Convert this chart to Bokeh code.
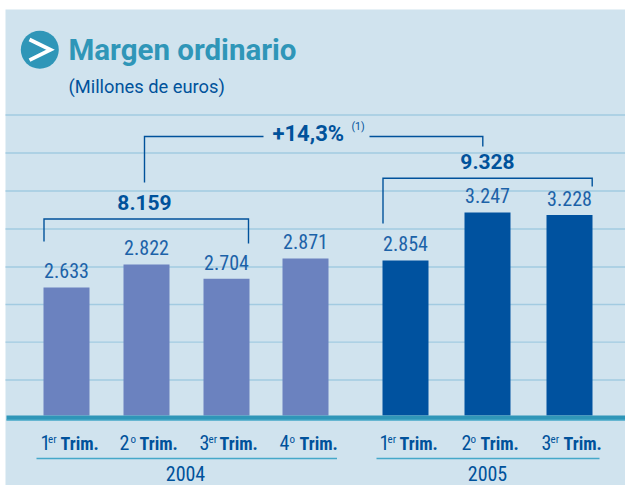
from bokeh.plotting import figure
from bokeh.embed import file_html
from bokeh.resources import INLINE
from bokeh.models import Range1d
from bokeh.core.properties import value

# ---- data ----
periods_2004 = ["1er Trim.", "2o Trim.", "3er Trim.", "4o Trim."]
values_2004 = [2633, 2822, 2704, 2871]
labels_2004 = ["2.633", "2.822", "2.704", "2.871"]
periods_2005 = ["1er Trim.", "2o Trim.", "3er Trim."]
values_2005 = [2854, 3247, 3228]
labels_2005 = ["2.854", "3.247", "3.228"]
years = ["2004", "2005"]
totals = ["8.159", "9.328"]
growth = "+14,3%"
note = "(1)"
title = "Margen ordinario"
subtitle = "(Millones de euros)"

# ---- layout (reference pixels) ----
BAR_W = 46
centers_2004 = [66, 146, 226, 305]
centers_2005 = [405, 487, 569]
BASE_VALUE, PX_PER_UNIT, BASE_PX = 1585, 0.1221, 415
L, T, R, B = 0, 0, 625, 485
RAISE = 0.38  # text sits this many em below the requested baseline in the svg output

BG, TEAL, BLUE, SOFT = "#d0e3ee", "#2f96b8", "#00529b", "#1c62a8"
LILAC, NAVY, GRID, RULE = "#6b82bf", "#00529f", "#a2cbe1", "#45a8c9"
COND = value("Roboto Condensed")
ROB = value("Roboto")

p = figure(width=R - L, height=B - T, output_backend="svg", toolbar_location=None,
           x_range=Range1d(L, R),
           y_range=Range1d(BASE_VALUE - (B - BASE_PX) / PX_PER_UNIT,
                           BASE_VALUE + (BASE_PX - T) / PX_PER_UNIT),
           min_border=0, outline_line_color=None,
           background_fill_color="white", border_fill_color="white")
p.axis.visible = False
p.grid.visible = False
p.extra_y_ranges["px"] = Range1d(B, T)
PX = dict(y_range_name="px")

# panel
p.quad(left=[5], right=[R], top=[9], bottom=[B], color=BG, line_color=None, **PX)

# horizontal rules
for y in [114.5, 152.5, 190.5, 228.5, 266.5, 304, 341.7, 379.5]:
    p.line([5, R], [y, y], line_color=GRID, line_width=1.3, **PX)

# bars
p.vbar(x=centers_2004, top=values_2004, bottom=BASE_VALUE, width=BAR_W, color=LILAC, line_color=None)
p.vbar(x=centers_2005, top=values_2005, bottom=BASE_VALUE, width=BAR_W, color=NAVY, line_color=None)

# baseline band
p.quad(left=[6], right=[R], top=[415], bottom=[420], color=TEAL, line_color=None, **PX)
p.line([6, R], [419.5, 419.5], line_color="#4fb0cf", line_width=1, **PX)

# value labels
VAL_SIZE = 20
p.text(x=centers_2004, y=values_2004, text=labels_2004, text_font=COND, text_font_size=f"{VAL_SIZE}px",
       text_color=SOFT, text_align="center", text_baseline="alphabetic", y_offset=-9 - RAISE * VAL_SIZE)
p.text(x=centers_2005, y=values_2005, text=labels_2005, text_font=COND, text_font_size=f"{VAL_SIZE}px",
       text_color=SOFT, text_align="center", text_baseline="alphabetic", y_offset=-9 - RAISE * VAL_SIZE)

# brackets
def path(xs, ys):
    p.line(xs, ys, line_color=BLUE, line_width=1.4, line_join="miter", **PX)
path([43.5, 43.5, 248, 248], [241, 218.5, 218.5, 243])
path([382.5, 382.5, 591.7, 591.7], [223, 177.7, 177.7, 186])
path([144, 144, 263], [182, 136, 136])
path([369, 482.3, 482.3], [136, 136, 146])

def txt(x, y, s, size, color=BLUE, font=COND, align="left", style="normal"):
    p.text(x=[x], y=[y - RAISE * size], text=[s], text_font=font, text_font_size=f"{size}px", text_color=color,
           text_align=align, text_baseline="alphabetic", text_font_style=style, **PX)

txt(144, 210, totals[0], 21, font=ROB, align="center", style="bold")
txt(487, 169, totals[1], 21, font=ROB, align="center", style="bold")
txt(272, 141, growth, 22, font=ROB, style="bold")
txt(351, 130, note, 10.5, font=ROB)

# icon and titles
p.scatter(x=[39.3], y=[49.3], size=38, color=TEAL, line_color=None, **PX)
p.line([29, 50, 29], [39, 49.3, 59.6], line_color="white", line_width=3.8, line_join="miter", **PX)
txt(68, 60.5, title, 29.5, color=TEAL, font=ROB, style="bold")
txt(68, 92.5, subtitle, 18.3, font=ROB)

# period labels: numeral, raised ordinal, word
num_x = [40, 119, 199, 279, 379, 461, 541]
sup_x = [47.5, 130, 208, 289, 387, 470, 550]
word_x = [60, 139, 219, 299, 399, 480, 563]
for plist, offset in ((periods_2004, 0), (periods_2005, 4)):
    for i, s in enumerate(plist):
        head, word = s.split(" ")
        txt(num_x[i + offset], 450, head[0], 20)
        txt(sup_x[i + offset], 443, head[1:], 11)
        txt(word_x[i + offset], 450, word, 18, style="bold")

# year rules and labels
for x0, x1, cx, yr in ((36, 336.5, 185, years[0]), (376, 599, 487, years[1])):
    p.line([x0, x1], [458, 458], line_color=RULE, line_width=1.5, **PX)
    txt(cx, 480.5, yr, 20, align="center")

open("out.html", "w").write(file_html(p, INLINE))
